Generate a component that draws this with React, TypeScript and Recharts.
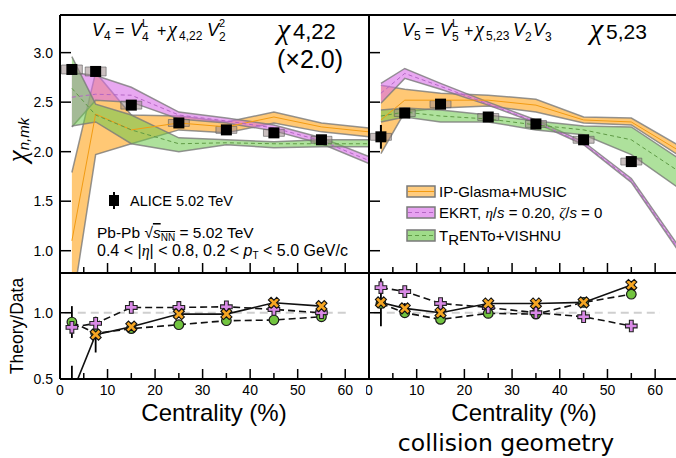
import React from 'react';
import {
  ComposedChart,
  Area,
  Line,
  Scatter,
  XAxis,
  YAxis,
  ErrorBar,
  ReferenceArea,
  ReferenceLine,
} from 'recharts';

// ---- data -------------------------------------------------------------
const centrality = [2.5, 7.5, 15, 25, 35, 45, 55];
const modelCentrality = [2.5, 7.5, 15, 25, 35, 45, 55, 65];
const centralityTicks = [0, 5, 10, 15, 20, 25, 30, 35, 40, 45, 50, 55, 60];
const chiTicks = [1.0, 1.5, 2.0, 2.5, 3.0];
const ratioTicks = [0.5, 1.0];

// chi_4,22 (x2.0)
const aliceChi422 = [2.83, 2.81, 2.47, 2.29, 2.22, 2.19, 2.12];
const aliceStat422 = [0.02, 0.02, 0.015, 0.01, 0.01, 0.015, 0.015];
const aliceSys422 = [0.045, 0.045, 0.04, 0.035, 0.035, 0.035, 0.035];
const ipLow422 = [0.42, 1.97, 2.08, 2.22, 2.19, 2.29, 2.2, 2.15];
const ipHigh422 = [1.79, 2.8, 2.37, 2.36, 2.3, 2.4, 2.29, 2.24];
const ipMid422 = [1.1, 2.38, 2.22, 2.29, 2.25, 2.35, 2.25, 2.2];
const ekLow422 = [2.25, 2.52, 2.5, 2.33, 2.29, 2.21, 2.08, 1.88];
const ekHigh422 = [2.8, 2.77, 2.65, 2.4, 2.34, 2.27, 2.14, 1.95];
const ekMid422 = [2.55, 2.58, 2.57, 2.37, 2.31, 2.24, 2.11, 1.91];
const trLow422 = [2.26, 2.3, 2.08, 2.0, 2.07, 2.04, 2.05, 2.05];
const trHigh422 = [2.96, 2.48, 2.37, 2.14, 2.12, 2.1, 2.12, 2.12];
const trMid422 = [2.64, 2.37, 2.22, 2.08, 2.09, 2.08, 2.08, 2.08];

// chi_5,23
const aliceChi523 = [2.15, 2.39, 2.48, 2.35, 2.28, 2.12, 1.9];
const aliceStat523 = [0.12, 0.02, 0.02, 0.015, 0.015, 0.02, 0.04];
const aliceSys523 = [0.035, 0.035, 0.035, 0.035, 0.035, 0.035, 0.035];
const ipLow523 = [1.98, 2.4, 2.44, 2.46, 2.4, 2.29, 2.27, 1.96];
const ipHigh523 = [2.67, 2.63, 2.59, 2.57, 2.53, 2.35, 2.34, 2.06];
const ipMid523 = [2.32, 2.52, 2.52, 2.52, 2.47, 2.32, 2.3, 2.01];
const ekLow523 = [2.49, 2.74, 2.63, 2.47, 2.29, 2.07, 1.69, 0.99];
const ekHigh523 = [2.69, 2.84, 2.69, 2.5, 2.32, 2.1, 1.73, 1.04];
const ekMid523 = [2.59, 2.79, 2.66, 2.48, 2.3, 2.08, 1.71, 1.01];
const trLow523 = [2.3, 2.35, 2.3, 2.3, 2.22, 2.17, 1.97, 1.63];
const trHigh523 = [2.42, 2.44, 2.42, 2.37, 2.31, 2.26, 2.25, 1.93];
const trMid523 = [2.36, 2.4, 2.36, 2.33, 2.27, 2.22, 2.12, 1.8];

// Theory / Data
const ratioIp422 = [0.39, 0.835, 0.895, 0.99, 0.99, 1.075, 1.05];
const ratioIpErr422 = [0.21, 0.135, 0.03, 0, 0, 0, 0];
const ratioEk422 = [0.89, 0.92, 1.04, 1.04, 1.045, 1.025, 1.0];
const ratioTr422 = [0.93, 0.845, 0.88, 0.91, 0.94, 0.945, 0.97];
const ratioTrErr422 = [0.12, 0.02, 0.02, 0, 0, 0, 0];

const ratioIp523 = [1.078, 1.033, 1.0, 1.07, 1.07, 1.078, 1.21];
const ratioIpErr523 = [0.18, 0.04, 0, 0, 0, 0, 0.03];
const ratioEk523 = [1.19, 1.16, 1.07, 1.04, 1.0, 0.97, 0.9];
const ratioTr523 = [1.07, 1.0, 0.95, 0.995, 0.99, 1.078, 1.14];
const ratioTrErr523 = [0, 0, 0, 0, 0, 0, 0];

// ---- styling ----------------------------------------------------------
const FONT = '"Liberation Sans", Arial, Helvetica, sans-serif';
const SERIF = '"Liberation Serif", "DejaVu Serif", serif';
const UPPER_DOMAIN: [number, number] = [0.775, 3.38];
const LOWER_DOMAIN: [number, number] = [0.5, 1.3];
const X_DOMAIN: [number, number] = [0, 65];
const SYS_HALF = 2.2;

const ORANGE = '#ffb13b';
const PURPLE = '#d96ee8';
const GREEN = '#6cc84a';
const EDGE = '#7a7a7a';

const bandRows = (
  ipLo: number[], ipHi: number[], ipMid: number[],
  ekLo: number[], ekHi: number[], ekMid: number[],
  trLo: number[], trHi: number[], trMid: number[],
) =>
  modelCentrality.map((x, i) => ({
    x,
    ip: [ipLo[i], ipHi[i]],
    ipMid: ipMid[i],
    ek: [ekLo[i], ekHi[i]],
    ekMid: ekMid[i],
    tr: [trLo[i], trHi[i]],
    trMid: trMid[i],
  }));

const aliceRows = (vals: number[], stat: number[], sys: number[]) =>
  centrality.map((x, i) => ({ x, y: vals[i], err: stat[i], sys: sys[i] }));

const ratioRows = (ip: number[], ipErr: number[], ek: number[], tr: number[], trErr: number[]) =>
  centrality.map((x, i) => ({ x, ip: ip[i], ipErr: ipErr[i], ek: ek[i], tr: tr[i], trErr: trErr[i] }));

const bands422 = bandRows(ipLow422, ipHigh422, ipMid422, ekLow422, ekHigh422, ekMid422, trLow422, trHigh422, trMid422);
const bands523 = bandRows(ipLow523, ipHigh523, ipMid523, ekLow523, ekHigh523, ekMid523, trLow523, trHigh523, trMid523);
const alice422 = aliceRows(aliceChi422, aliceStat422, aliceSys422);
const alice523 = aliceRows(aliceChi523, aliceStat523, aliceSys523);
const ratios422 = ratioRows(ratioIp422, ratioIpErr422, ratioEk422, ratioTr422, ratioTrErr422);
const ratios523 = ratioRows(ratioIp523, ratioIpErr523, ratioEk523, ratioTr523, ratioTrErr523);

// ---- frame and ticks, drawn through the axis scales ----------------------
const xTickShape = (v: number, tick: boolean, label: boolean) => (p: any) => {
  const bottom = Math.max(p.y1, p.y2);
  const major = v % 10 === 0;
  return (
    <g>
      {tick && <line x1={p.x1} x2={p.x1} y1={bottom} y2={bottom - (major ? 10 : 6)} stroke="#000" strokeWidth={1.5} />}
      {label && major && (
        <text x={p.x1} y={bottom + 16} textAnchor="middle" fontSize={14} fontFamily={FONT} fill="#000">
          {v}
        </text>
      )}
    </g>
  );
};

const yTickShape = (v: number, tick: boolean, label: boolean) => (p: any) => {
  const left = Math.min(p.x1, p.x2);
  return (
    <g>
      {tick && <line x1={left} x2={left + 11} y1={p.y1} y2={p.y1} stroke="#000" strokeWidth={1.5} />}
      {label && (
        <text x={left - 7} y={p.y1 + 5} textAnchor="end" fontSize={14} fontFamily={FONT} fill="#000">
          {v.toFixed(1)}
        </text>
      )}
    </g>
  );
};

type FrameOpts = { lines: boolean; xLabels: boolean; yLabels: boolean; top: boolean };

const frame = (yDomain: [number, number], yTicks: number[], o: FrameOpts) => [
  o.lines ? <ReferenceLine key="fl" xAxisId="b" yAxisId="l" x={X_DOMAIN[0]} stroke="#000" strokeWidth={2} /> : null,
  o.lines ? <ReferenceLine key="fb" xAxisId="b" yAxisId="l" y={yDomain[0]} stroke="#000" strokeWidth={2} /> : null,
  o.lines && o.top ? <ReferenceLine key="ft" xAxisId="b" yAxisId="l" y={yDomain[1]} stroke="#000" strokeWidth={2} /> : null,
  ...centralityTicks.map((v) => (
    <ReferenceLine key={`xt${v}`} xAxisId="b" yAxisId="l" x={v} shape={xTickShape(v, o.lines, o.xLabels)} />
  )),
  ...yTicks.map((v) => (
    <ReferenceLine key={`yt${v}`} xAxisId="b" yAxisId="l" y={v} shape={yTickShape(v, o.lines, o.yLabels)} />
  )),
];

const plusPts = (a: number, t: number) =>
  `${-t},${-a} ${t},${-a} ${t},${-t} ${a},${-t} ${a},${t} ${t},${t} ${t},${a} ${-t},${a} ${-t},${t} ${-a},${t} ${-a},${-t} ${-t},${-t}`;

const Marker = ({ kind, cx, cy }: { kind: string; cx?: number; cy?: number }) => {
  if (cx == null || cy == null || isNaN(cx) || isNaN(cy)) return <g />;
  if (kind === 'circle')
    return <circle cx={cx} cy={cy} r={4.8} fill="#72c43f" stroke="#1a1a1a" strokeWidth={1.2} />;
  if (kind === 'plus')
    return (
      <polygon points={plusPts(5.8, 1.9)} transform={`translate(${cx},${cy})`} fill="#d98ae6" stroke="#222" strokeWidth={1.1} />
    );
  return (
    <polygon points={plusPts(5.9, 1.9)} transform={`translate(${cx},${cy}) rotate(45)`} fill="#f6a623" stroke="#111" strokeWidth={1.1} />
  );
};

const dotOf = (kind: string) => (p: any) => <Marker key={`${kind}-${p.index}`} kind={kind} cx={p.cx} cy={p.cy} />;

const Square = (p: any) => <rect x={p.cx - 5.5} y={p.cy - 5.5} width={11} height={11} fill="#000" />;

// ---- panels -------------------------------------------------------------
// the svg of each data chart stops one pixel under its plot, so nothing leaks below the axis
function UpperPanel({ left, width, marginLeft, marginRight, yLabels, bands, alice }: any) {
  return (
    <div style={{ position: 'absolute', left, top: 0 }}>
      <ComposedChart width={width} height={274} data={bands} margin={{ top: 15, right: marginRight, bottom: 1, left: marginLeft }}>
        <XAxis xAxisId="b" type="number" dataKey="x" domain={X_DOMAIN} allowDataOverflow hide />
        <YAxis yAxisId="l" type="number" domain={UPPER_DOMAIN} allowDataOverflow hide />
        <Area xAxisId="b" yAxisId="l" type="linear" dataKey="ip" fill={ORANGE} fillOpacity={0.7} stroke={EDGE} strokeOpacity={0.8} strokeWidth={1.5} isAnimationActive={false} />
        <Area xAxisId="b" yAxisId="l" type="linear" dataKey="ek" fill={PURPLE} fillOpacity={0.6} stroke={EDGE} strokeOpacity={0.8} strokeWidth={1.5} isAnimationActive={false} />
        <Area xAxisId="b" yAxisId="l" type="linear" dataKey="tr" fill={GREEN} fillOpacity={0.55} stroke={EDGE} strokeOpacity={0.8} strokeWidth={1.5} isAnimationActive={false} />
        <Line xAxisId="b" yAxisId="l" type="linear" dataKey="ipMid" stroke="#f29b12" strokeWidth={1} dot={false} isAnimationActive={false} />
        <Line xAxisId="b" yAxisId="l" type="linear" dataKey="ekMid" stroke="#b466c4" strokeWidth={1} strokeDasharray="4 3" dot={false} isAnimationActive={false} />
        <Line xAxisId="b" yAxisId="l" type="linear" dataKey="trMid" stroke="#5f9a45" strokeWidth={1} strokeDasharray="4 3" dot={false} isAnimationActive={false} />
        {alice.map((p: any) => (
          <ReferenceArea
            key={`sys-${p.x}`} xAxisId="b" yAxisId="l"
            x1={p.x - SYS_HALF} x2={p.x + SYS_HALF} y1={p.y - p.sys} y2={p.y + p.sys}
            fill="#9c8a8a" fillOpacity={0.55} stroke="#5a5a5a" strokeOpacity={0.6} strokeWidth={1}
          />
        ))}
        <Scatter xAxisId="b" yAxisId="l" data={alice} dataKey="y" shape={Square} isAnimationActive={false}>
          <ErrorBar dataKey="err" direction="y" width={0} stroke="#000" strokeWidth={2} />
        </Scatter>
        {frame(UPPER_DOMAIN, chiTicks, { lines: true, xLabels: false, yLabels, top: true })}
      </ComposedChart>
    </div>
  );
}

function LowerPanel({ left, width, marginLeft, marginRight, yLabels, rows }: any) {
  return (
    <div style={{ position: 'absolute', left, top: 270 }}>
      <div style={{ position: 'absolute', left: 0, top: 0 }}>
        <ComposedChart width={width} height={110} data={rows} margin={{ top: 3, right: marginRight, bottom: 1, left: marginLeft }}>
          <XAxis xAxisId="b" type="number" dataKey="x" domain={X_DOMAIN} allowDataOverflow hide />
          <YAxis yAxisId="l" type="number" domain={LOWER_DOMAIN} allowDataOverflow hide />
          <ReferenceLine
            xAxisId="b" yAxisId="l" segment={[{ x: 1, y: 1 }, { x: 61, y: 1 }]}
            stroke="#cfcfcf" strokeWidth={2} strokeDasharray="8 5"
          />
          <Line xAxisId="b" yAxisId="l" type="linear" dataKey="tr" stroke="#111" strokeWidth={1.6} strokeDasharray="7 4" dot={dotOf('circle')} isAnimationActive={false}>
            <ErrorBar dataKey="trErr" direction="y" width={0} stroke="#000" strokeWidth={1.8} />
          </Line>
          <Line xAxisId="b" yAxisId="l" type="linear" dataKey="ek" stroke="#111" strokeWidth={1.6} strokeDasharray="7 4" dot={dotOf('plus')} isAnimationActive={false} />
          <Line xAxisId="b" yAxisId="l" type="linear" dataKey="ip" stroke="#111" strokeWidth={1.6} dot={dotOf('x')} isAnimationActive={false}>
            <ErrorBar dataKey="ipErr" direction="y" width={0} stroke="#000" strokeWidth={1.8} />
          </Line>
          {frame(LOWER_DOMAIN, ratioTicks, { lines: true, xLabels: false, yLabels: false, top: false })}
        </ComposedChart>
      </div>
      <div style={{ position: 'absolute', left: 0, top: 0 }}>
        <ComposedChart width={width} height={139} data={rows} margin={{ top: 3, right: marginRight, bottom: 30, left: marginLeft }}>
          <XAxis xAxisId="b" type="number" dataKey="x" domain={X_DOMAIN} allowDataOverflow hide />
          <YAxis yAxisId="l" type="number" domain={LOWER_DOMAIN} allowDataOverflow hide />
          <Line xAxisId="b" yAxisId="l" type="linear" dataKey="ek" stroke="none" dot={false} isAnimationActive={false} />
          {frame(LOWER_DOMAIN, ratioTicks, { lines: false, xLabels: true, yLabels, top: false })}
        </ComposedChart>
      </div>
    </div>
  );
}

// ---- annotations -------------------------------------------------------
const It = ({ x, y, size = 18, children }: any) => (
  <text x={x} y={y} fontSize={size} fontStyle="italic">{children}</text>
);
const Tx = ({ x, y, size = 12, children }: any) => (
  <text x={x} y={y} fontSize={size}>{children}</text>
);
const Chi = ({ x, y, size = 20 }: any) => (
  <text x={x} y={y} fontSize={size} fontFamily={SERIF} fontStyle="italic">χ</text>
);

function Swatch({ y, color, line, dash }: any) {
  return (
    <g>
      <rect x={407} y={y} width={28} height={11} fill={color} fillOpacity={0.65} stroke={EDGE} strokeWidth={1.5} />
      <line x1={408} x2={434} y1={y + 5.5} y2={y + 5.5} stroke={line} strokeWidth={1} strokeDasharray={dash} />
    </g>
  );
}

function Annotations() {
  return (
    <svg width={676} height={458} style={{ position: 'absolute', left: 0, top: 0, pointerEvents: 'none' }} fontFamily={FONT} fill="#000">
      {/* axis titles */}
      <text transform="rotate(-90)" x={-140} y={26} textAnchor="middle">
        <tspan fontFamily={SERIF} fontStyle="italic" fontSize={27}>χ</tspan>
        <tspan fontStyle="italic" fontSize={15} dy={3}>n,mk</tspan>
      </text>
      <text transform="rotate(-90)" x={-326} y={23} textAnchor="middle" fontSize={17.5}>Theory/Data</text>
      <text x={214} y={421} textAnchor="middle" fontSize={24}>Centrality (%)</text>
      <text x={524} y={421} textAnchor="middle" fontSize={24}>Centrality (%)</text>
      <text x={506} y={451} textAnchor="middle" fontSize={23.5} fontFamily='"DejaVu Sans", sans-serif'>collision geometry</text>

      {/* left formula */}
      <It x={92} y={36}>V</It>
      <Tx x={104} y={40}>4</Tx>
      <Tx x={115} y={36} size={16}>=</Tx>
      <It x={130} y={36}>V</It>
      <Tx x={142} y={41}>4</Tx>
      <Tx x={142} y={27} size={11}>L</Tx>
      <Tx x={157} y={36} size={16}>+</Tx>
      <Chi x={168} y={36} />
      <Tx x={179} y={40}>4,22</Tx>
      <It x={207} y={36}>V</It>
      <Tx x={219} y={41}>2</Tx>
      <Tx x={219} y={27} size={11}>2</Tx>

      {/* right formula */}
      <It x={402} y={36}>V</It>
      <Tx x={414} y={40}>5</Tx>
      <Tx x={425} y={36} size={16}>=</Tx>
      <It x={440} y={36}>V</It>
      <Tx x={452} y={41}>5</Tx>
      <Tx x={452} y={27} size={11}>L</Tx>
      <Tx x={464} y={36} size={16}>+</Tx>
      <Chi x={475} y={36} />
      <Tx x={486} y={40}>5,23</Tx>
      <It x={513} y={36}>V</It>
      <Tx x={525} y={41}>2</Tx>
      <It x={533} y={36}>V</It>
      <Tx x={545} y={41}>3</Tx>

      {/* big labels */}
      <Chi x={277} y={39} size={30} />
      <Tx x={293} y={39} size={22}>4,22</Tx>
      <Tx x={277} y={68} size={25}>(×2.0)</Tx>
      <Chi x={590} y={39} size={30} />
      <Tx x={606} y={39} size={21}>5,23</Tx>

      {/* ALICE legend */}
      <line x1={114} x2={114} y1={192} y2={209} stroke="#000" strokeWidth={2} />
      <rect x={109} y={195} width={10} height={11} fill="#000" />
      <text x={130} y={206} fontSize={14.5}>ALICE 5.02 TeV</text>

      <text x={97} y={238} fontSize={15.5}>
        Pb-Pb <tspan>√</tspan>
        <tspan fontStyle="italic" style={{ textDecoration: 'overline' }}>s</tspan>
        <tspan fontSize={10} dy={3} style={{ textDecoration: 'overline' }}>NN</tspan>
        <tspan dy={-3}> = 5.02 TeV</tspan>
      </text>
      <text x={97} y={256} fontSize={16}>
        0.4 &lt; |<tspan fontFamily={SERIF} fontStyle="italic">η</tspan>| &lt; 0.8, 0.2 &lt; <tspan fontStyle="italic">p</tspan>
        <tspan fontSize={10} dy={3}>T</tspan>
        <tspan dy={-3}> &lt; 5.0 GeV/c</tspan>
      </text>

      {/* model legend */}
      <Swatch y={186} color={ORANGE} line="#f29b12" />
      <Swatch y={207} color={PURPLE} line="#b466c4" dash="4 3" />
      <Swatch y={230} color={GREEN} line="#5f9a45" dash="4 3" />
      <text x={439} y={197} fontSize={15}>IP-Glasma+MUSIC</text>
      <text x={439} y={218} fontSize={15}>
        EKRT, <tspan fontFamily={SERIF} fontStyle="italic">η</tspan>/<tspan fontStyle="italic">s</tspan> = 0.20,{' '}
        <tspan fontFamily={SERIF} fontStyle="italic">ζ</tspan>/<tspan fontStyle="italic">s</tspan> = 0
      </text>
      <text x={439} y={241} fontSize={15}>
        T<tspan dy={4}>R</tspan><tspan dy={-4}>ENTo+VISHNU</tspan>
      </text>
    </svg>
  );
}

export default function App() {
  return (
    <div
      style={{
        position: 'fixed', left: 0, top: 0, width: 676, height: 458, overflow: 'hidden',
        background: '#fff', fontFamily: FONT,
      }}
    >
      <UpperPanel left={0} width={375} marginLeft={60} marginRight={6} yLabels bands={bands422} alice={alice422} />
      <UpperPanel left={366} width={313} marginLeft={3} marginRight={0} yLabels={false} bands={bands523} alice={alice523} />
      <LowerPanel left={0} width={375} marginLeft={60} marginRight={6} yLabels rows={ratios422} />
      <LowerPanel left={366} width={313} marginLeft={3} marginRight={0} yLabels={false} rows={ratios523} />
      <Annotations />
    </div>
  );
}
